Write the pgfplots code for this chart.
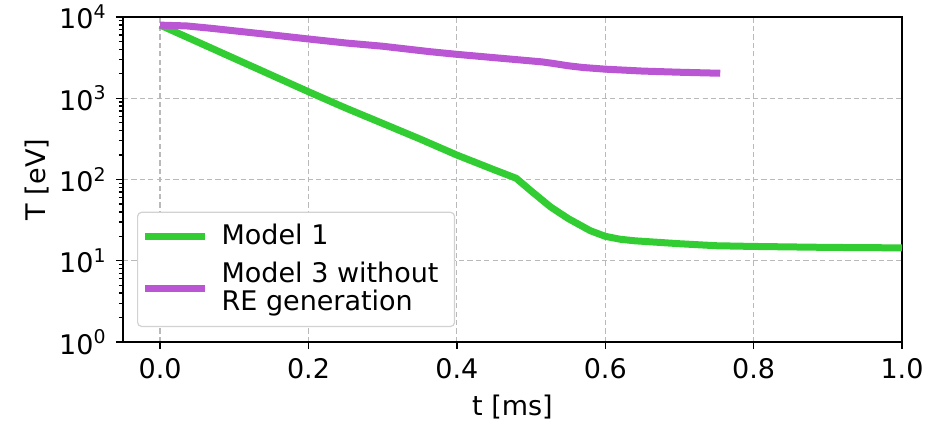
\documentclass[border=0pt]{standalone}
\usepackage{fontspec}
\setmainfont{DejaVu Sans}
\usepackage{pgfplots}
\pgfplotsset{compat=1.18}
\definecolor{mgreen}{RGB}{50,205,50}
\definecolor{mpurple}{RGB}{186,85,211}
\begin{document}
\fontsize{13.5pt}{16pt}\selectfont
\begin{tikzpicture}
\begin{axis}[
  name=ax,
  scale only axis,
  width=389.5pt, height=162.5pt,
  ymode=log,
  xmin=-0.05, xmax=1.0,
  ymin=1, ymax=10000,
  xtick={0,0.2,0.4,0.6,0.8,1.0},
  xticklabels={0.0,0.2,0.4,0.6,0.8,1.0},
  ytick={1,10,100,1000,10000},
  yticklabels={10\textsuperscript{0},10\textsuperscript{1},10\textsuperscript{2},10\textsuperscript{3},10\textsuperscript{4}},
  tick label style={font=\fontsize{13.5pt}{16pt}\selectfont},
  label style={font=\fontsize{13.5pt}{16pt}\selectfont},
  tick align=outside,
  xtick pos=lower, ytick pos=left,
  major tick length=3.5pt, minor tick length=2pt,
  tick style={black, line width=0.7pt},
  axis line style={line width=0.8pt},
  grid=major,
  major grid style={dashed, dash pattern=on 2.6pt off 1.6pt, gray!55, line width=0.6pt},
  xlabel={t [ms]},
  ylabel={T [eV]},
  xlabel style={yshift=1pt},
  ylabel style={yshift=-4pt},
  legend cell align=left,
  legend style={at={(0.018,0.046)}, anchor=south west, draw=gray!35, rounded corners=2pt,
    line width=0.6pt, inner xsep=2pt, inner ysep=3pt,
    nodes={align=left, inner sep=3pt}, row sep=0.5pt,
    /tikz/every odd column/.append style={column sep=3.5pt},
    font=\fontsize{13.5pt}{14pt}\selectfont},
  legend image code/.code={\draw[#1, line width=3.5pt] (0pt,0pt) -- (30pt,0pt);},
]
\addplot[mgreen, line width=3.5pt, line join=round] coordinates {
(0,7943) (0.05,4955) (0.1,3090) (0.15,1928) (0.2,1202) (0.25,759) (0.3,490)
(0.35,316) (0.4,200) (0.45,132) (0.48,103.5) (0.5,72.4) (0.526,46.2) (0.55,33.1) (0.566,27.5)
(0.58,23.4) (0.6,20.0) (0.62,18.4) (0.64,17.6) (0.7,16.2) (0.75,15.3) (0.8,15.0) (0.9,14.6) (1.0,14.4)
};
\addlegendentry{Model 1}
\addplot[mpurple, line width=3.5pt, line join=round] coordinates {
(0,7943) (0.036,7760) (0.07,7240) (0.1,6760) (0.15,6030) (0.2,5360) (0.25,4790) (0.3,4365)
(0.364,3740) (0.4,3470) (0.45,3160) (0.5,2880) (0.515,2800) (0.53,2680) (0.55,2510) (0.57,2390)
(0.6,2280) (0.65,2160) (0.7,2090) (0.755,2030)
};
\addlegendentry{Model 3 without\hspace*{3pt}\\RE generation}
\end{axis}
\pgfresetboundingbox
\path[use as bounding box] ([shift={(-61.5pt,-41pt)}]ax.south west) rectangle ([shift={(12.5pt,8.5pt)}]ax.north east);
\end{tikzpicture}
\end{document}
